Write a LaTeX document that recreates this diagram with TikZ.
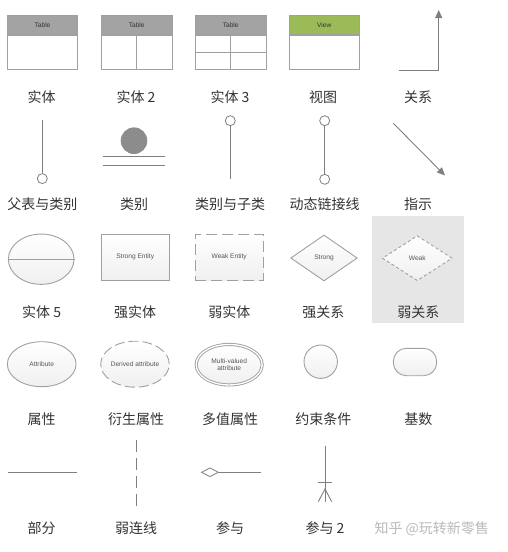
\documentclass[tikz,border=0pt]{standalone}
\usepackage{fontspec}
\setmainfont{Noto Sans CJK SC}
\newfontfamily\latf{Liberation Sans}
\usetikzlibrary{shapes.geometric,arrows.meta}
\definecolor{ln}{HTML}{7F7F7F}
\definecolor{bd}{HTML}{A0A0A0}
\definecolor{hdgray}{HTML}{A3A3A3}
\definecolor{hdgreen}{HTML}{9BBB59}
\definecolor{txt}{HTML}{333333}
\definecolor{tinytxt}{HTML}{555555}
\definecolor{hl}{HTML}{E6E6E6}
\begin{document}
\begin{tikzpicture}[x=1pt,y=-1pt,
  lbl/.style={font=\fontsize{14}{16}\selectfont, text=txt, inner sep=0pt},
  tiny/.style={font=\latf\fontsize{6.6}{7.6}\selectfont, text=tinytxt},
  thead/.style={draw=bd, line width=0.8pt, minimum width=70.4pt, minimum height=19.3pt, inner sep=0pt, anchor=north, fill=hdgray},
  tbody/.style={draw=bd, line width=0.8pt, minimum width=70.4pt, minimum height=33.7pt, inner sep=0pt, anchor=north, fill=white},
  conn/.style={draw=ln, line width=0.9pt},
  shp/.style={draw=bd, line width=0.9pt, top color=white, bottom color=gray!12, inner sep=0pt},
  smallcirc/.style={circle, draw=ln, line width=0.8pt, fill=white, minimum size=10pt, inner sep=0pt},
  arr/.style={conn, -{Triangle[length=8pt,width=7pt]}}
]
\useasboundingbox (0,0) rectangle (508,552);
% highlight background
\fill[hl] (372.3,216) rectangle (464.3,322.7);

% Row 1: tables
\foreach \n/\cx in {1/42.5,2/136.7,3/230.7}{
  \node[thead] (th\n) at (\cx,15) {};
  \node[tbody] (tb\n) at (th\n.south) {};
  \node[tiny, text=txt] (tt\n) at (th\n.center) {Table};
}
\node[thead, fill=hdgreen] (thv) at (324.3,15) {};
\node[tbody] (tbv) at (thv.south) {};
\node[tiny, text=txt] (ttv) at (thv.center) {View};
\draw[draw=bd, line width=0.8pt] (tb2.north) -- (tb2.south);
\draw[draw=bd, line width=0.8pt] (tb3.north) -- (tb3.south);
\draw[draw=bd, line width=0.8pt] (tb3.west) -- (tb3.east);
% relation arrow
\coordinate (ra) at (399,70);
\coordinate (rb) at (438.7,70);
\coordinate (rc) at (438.7,10);
\draw[arr] (ra) -- (rb) -- (rc);

\node[lbl] (l11) at (41.7,96.7) {实体};
\node[lbl] (l12) at (136,96.7) {实体 2};
\node[lbl] (l13) at (230,96.7) {实体 3};
\node[lbl] (l14) at (323,96.7) {视图};
\node[lbl] (l15) at (418,96.7) {关系};

% Row 2
\coordinate (pa) at (42.3,120);
\node[smallcirc] (pc) at (42.3,178.6) {};
\draw[conn] (pa) -- (pc.north);

\node[circle, fill=ln!90, minimum size=26.6pt, inner sep=0pt] (cat) at (134,140.7) {};
\coordinate (c1a) at (102.7,156.7); \coordinate (c1b) at (165.3,156.7);
\coordinate (c2a) at (102.7,165.7); \coordinate (c2b) at (165.3,165.7);
\draw[conn] (c1a) -- (c1b);
\draw[conn] (c2a) -- (c2b);

\node[smallcirc] (sc) at (230.3,120.7) {};
\coordinate (sb) at (230.3,179.3);
\draw[conn] (sc.south) -- (sb);

\node[smallcirc] (dc1) at (324.7,120.7) {};
\node[smallcirc] (dc2) at (324.7,179.3) {};
\draw[conn] (dc1.south) -- (dc2.north);

\coordinate (ia) at (393.3,123.3);
\coordinate (ib) at (445,175.5);
\draw[arr] (ia) -- (ib);

\node[lbl] (l21) at (42.3,204.3) {父表与类别};
\node[lbl] (l22) at (134,204.3) {类别};
\node[lbl] (l23) at (230,204.3) {类别与子类};
\node[lbl] (l24) at (324.7,204.3) {动态链接线};
\node[lbl] (l25) at (418,204.3) {指示};

% Row 3
\node[shp, ellipse, minimum width=65.7pt, minimum height=50.3pt] (e5) at (41.2,259.2) {};
\draw[draw=bd, line width=0.9pt] (e5.west) -- (e5.east);
\node[shp, rectangle, minimum width=68.3pt, minimum height=45.7pt, tiny] (se) at (135.2,257.2) {Strong Entity};
\node[shp, rectangle, dashed, dash pattern=on 11pt off 5pt, minimum width=68.3pt, minimum height=45.7pt, tiny] (we) at (229.2,257.2) {Weak Entity};
\node[shp, diamond, aspect=1.45, minimum width=66.6pt, minimum height=46pt, tiny] (sr) at (324,258) {Strong};
\node[shp, diamond, aspect=1.55, dashed, dash pattern=on 3pt off 2.5pt, minimum width=70pt, minimum height=45pt, tiny] (wr) at (417.3,258.2) {Weak};

\node[lbl] (l31) at (41.7,312.3) {实体 5};
\node[lbl] (l32) at (135,312.3) {强实体};
\node[lbl] (l33) at (229.3,312.3) {弱实体};
\node[lbl] (l34) at (323.3,312.3) {强关系};
\node[lbl] (l35) at (418.3,312.3) {弱关系};

% Row 4
\node[shp, ellipse, minimum width=68.7pt, minimum height=45pt, tiny] (at) at (41.7,364.2) {Attribute};
\node[shp, ellipse, dashed, dash pattern=on 10pt off 4pt, minimum width=68.6pt, minimum height=46pt, tiny] (da) at (135,364.2) {Derived attribute};
\node[shp, ellipse, double=white, double distance=1.3pt, minimum width=66pt, minimum height=40.5pt, tiny, align=center] (ma) at (229.2,364.7) {Multi-valued\\attribute};
\node[shp, circle, minimum size=33.4pt] (cc) at (320.7,361.7) {};
\node[shp, rectangle, rounded corners=13pt, minimum width=43.3pt, minimum height=27.4pt] (cd) at (415,362) {};

\node[lbl] (l41) at (41.7,419.3) {属性};
\node[lbl] (l42) at (136,419.3) {衍生属性};
\node[lbl] (l43) at (230,419.3) {多值属性};
\node[lbl] (l44) at (323.3,419.3) {约束条件};
\node[lbl] (l45) at (418.3,419.3) {基数};

% Row 5
\coordinate (pta) at (8.3,472.3); \coordinate (ptb) at (76.7,472.3);
\draw[conn] (pta) -- (ptb);
\coordinate (wla) at (136.7,440); \coordinate (wlb) at (136.7,509);
\draw[conn, dash pattern=on 12pt off 6pt] (wla) -- (wlb);
\node[diamond, draw=ln, line width=0.8pt, fill=white, aspect=2, minimum width=17pt, minimum height=9pt, inner sep=0pt] (pd) at (210,472.3) {};
\coordinate (pe) at (260.7,472.3);
\draw[conn] (pd.east) -- (pe);
\coordinate (q1) at (325,446); \coordinate (q2) at (325,501.7);
\coordinate (qb1) at (317.7,482.3); \coordinate (qb2) at (331.7,482.3);
\coordinate (qf) at (325,489); \coordinate (qfl) at (318.3,501.7); \coordinate (qfr) at (331.7,501.7);
\draw[conn] (q1) -- (q2);
\draw[conn] (qb1) -- (qb2);
\draw[conn] (qfl) -- (qf) -- (qfr);

\node[lbl] (l51) at (41.7,528.3) {部分};
\node[lbl] (l52) at (136,528.3) {弱连线};
\node[lbl] (l53) at (230,528.3) {参与};
\node[lbl] (l54) at (325,528.3) {参与 2};
\node[lbl, text=gray!55] (wm) at (431.7,528.3) {知乎 @玩转新零售};
\end{tikzpicture}
\end{document}
